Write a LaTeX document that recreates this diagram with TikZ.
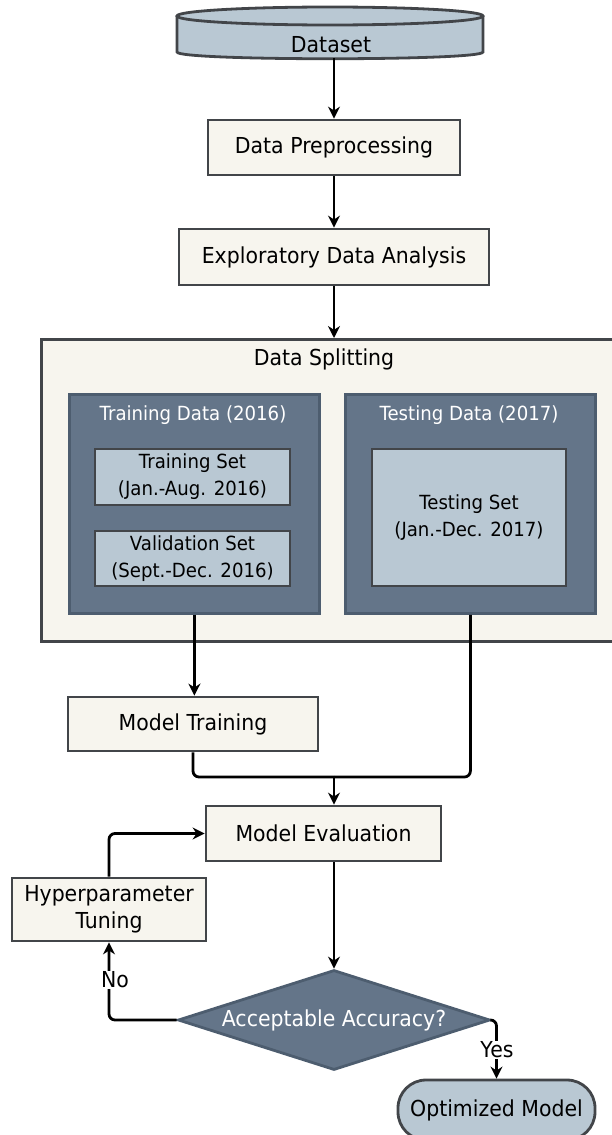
\documentclass[tikz,border=0pt]{standalone}
\usepackage{fontspec}
\setmainfont{DejaVu Sans}[FakeStretch=0.93]
\usetikzlibrary{arrows.meta,shapes.geometric}
\definecolor{cream}{HTML}{F7F5EE}
\definecolor{bord}{HTML}{424549}
\definecolor{lblue}{HTML}{B9C8D3}
\definecolor{slate}{HTML}{647589}
\definecolor{slateb}{HTML}{4D5D6F}
\tikzset{
  box/.style={draw=bord, line width=2.8pt, fill=cream, inner sep=0pt, align=center, font=\fontsize{22}{27}\selectfont},
  lbox/.style={draw=bord, line width=2.8pt, fill=lblue, inner sep=0pt, align=center, font=\fontsize{19.5}{27}\selectfont},
  dbox/.style={draw=slateb, line width=2.8pt, fill=slate, inner sep=0pt},
  wlabel/.style={text=white, inner sep=0pt, font=\fontsize{19.5}{24}\selectfont},
  conn/.style={line width=2.8pt, -{Stealth[length=12pt,width=12pt]}, rounded corners=6pt},
  line/.style={line width=2.8pt, rounded corners=6pt},
  lab/.style={fill=white, inner sep=1pt, font=\fontsize{22}{26}\selectfont}
}
\begin{document}
\begin{tikzpicture}[x=1pt,y=-1pt]
\path[use as bounding box] (0,0) rectangle (612,1135);
% Dataset cylinder
\fill[lblue] (177,16) -- (177,52) .. controls (177,61) and (483,61) .. (483,52) -- (483,16) -- cycle;
\fill[lblue] (330,16) ellipse [x radius=153, y radius=9];
\draw[bord, line width=2.8pt] (177,16) -- (177,52) .. controls (177,61) and (483,61) .. (483,52) -- (483,16);
\draw[bord, line width=2.8pt] (330,16) ellipse [x radius=153, y radius=9];
\node[inner sep=0pt, font=\fontsize{22}{26}\selectfont] (ds) at (331,45) {Dataset};
\coordinate (dsb) at (334,58);
% main boxes
\node[box, minimum width=252pt, minimum height=55pt] (dp) at (334,147.5) {Data Preprocessing};
\node[box, minimum width=310pt, minimum height=56pt] (eda) at (334,257) {Exploratory Data Analysis};
% Data splitting
\node[box, minimum width=590pt, minimum height=302pt, anchor=north west] (split) at (40,338) {};
\node[inner sep=0pt, font=\fontsize{22}{26}\selectfont] (splitt) at (324,359) {Data Splitting};
\node[dbox, minimum width=250pt, minimum height=219pt, anchor=north west] (trd) at (68,393) {};
\node[wlabel] (trdt) at (193,415) {Training Data (2016)};
\node[dbox, minimum width=250pt, minimum height=219pt, anchor=north west] (ted) at (344,393) {};
\node[wlabel] (tedt) at (469,415) {Testing Data (2017)};
\node[lbox, minimum width=195pt, minimum height=56pt] (trs) at (192.5,477) {Training Set\\(Jan.-Aug. 2016)};
\node[lbox, minimum width=195pt, minimum height=55pt] (vs) at (192.5,558.5) {Validation Set\\(Sept.-Dec. 2016)};
\node[lbox, minimum width=194pt, minimum height=137pt] (tes) at (469,517.5) {Testing Set\\(Jan.-Dec. 2017)};
% model training / evaluation
\node[box, minimum width=250pt, minimum height=54pt] (mt) at (193,724) {Model Training};
\node[box, minimum width=235pt, minimum height=55pt] (me) at (323.5,833.5) {Model Evaluation};
\node[box, minimum width=194pt, minimum height=63pt] (ht) at (109,909.5) {Hyperparameter\\Tuning};
\node[diamond, aspect=3.12, draw=slateb, fill=slate, line width=2.8pt, minimum width=312pt, minimum height=100pt, inner sep=0pt, text=white, font=\fontsize{22}{26}\selectfont] (acc) at (334,1020) {Acceptable Accuracy?};
\node[draw=bord, line width=2.8pt, fill=lblue, rounded corners=28pt, minimum width=197pt, minimum height=60pt, inner sep=0pt, font=\fontsize{22}{26}\selectfont] (om) at (496.5,1110) {Optimized Model};
% connectors
\coordinate (m) at (334,777);
\draw[conn] (dsb) -- (dp.north);
\draw[conn] (dp.south) -- (eda.north);
\draw[conn] (eda.south) -- (split.north -| eda.south);
\draw[conn] (trd.south) -- (trd.south |- mt.north);
\draw[line] (mt.south) |- (m);
\draw[line] (ted.south) |- (m);
\draw[conn] (m) -- (me.north -| m);
\draw[conn] (me.south -| acc.north) -- (acc.north);
\draw[conn] (ht.north) |- (me.west);
\draw[conn] (acc.west) -| (ht.south);
\draw[conn] (acc.east) -| (om.north);
\node[lab] (no) at (115,980) {No};
\node[lab] (yes) at (497,1050) {Yes};
\end{tikzpicture}
\end{document}
